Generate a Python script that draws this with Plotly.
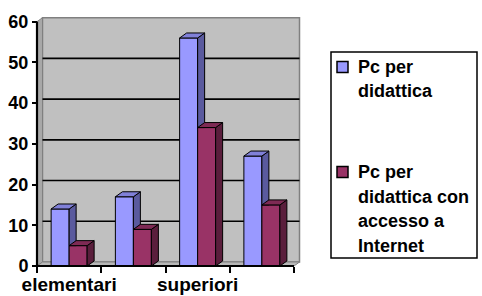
import plotly.graph_objects as go

# ---------------- data ----------------
categories = ["elementari", "", "superiori", ""]
series_names = ["Pc per didattica", "Pc per didattica con accesso a Internet"]
legend_lines = [["Pc per", "didattica"], ["Pc per", "didattica con", "accesso a", "Internet"]]
pc_didattica = [14, 17, 56, 27]
pc_internet = [5, 9, 34, 15]
y_ticks = [0, 10, 20, 30, 40, 50, 60]

# ---------------- layout constants ----------------
W, H = 482, 296
ML, MR, MT, MB = 33, 180, 17, 28
X0_PX, Y0_PX = 37, 266          # pixel where x=-0.5 / y=0
SX, SY = 64.25, 4.072           # px per unit
plot_w, plot_h = W - ML - MR, H - MT - MB
xmin = -0.5 - (X0_PX - ML) / SX
xmax = xmin + plot_w / SX
ymin = -((H - MB) - Y0_PX) / SY
ymax = ymin + plot_h / SY


def px(x):
    return (x - ML) / plot_w


def py(y):
    return ((H - MB) - y) / plot_h


BAR_W = 18 / SX
DX, DY = 7 / SX, 5 / SY          # bar depth
WX, WY = 5.5 / SX, 4 / SY        # wall depth

BLUE, BLUE_TOP, BLUE_SIDE = "#9999FF", "#8080D8", "#5A5A9E"
RED, RED_TOP, RED_SIDE = "#993366", "#7E2A54", "#5A1E3C"
FONT = dict(family="Liberation Sans, Arial, sans-serif", size=18, color="black")

xs = list(range(len(categories)))
fig = go.Figure()

fig.add_trace(go.Bar(x=xs, y=pc_didattica, width=BAR_W, offset=-BAR_W, name=series_names[0],
                     marker=dict(color=BLUE, line=dict(color="black", width=1)), showlegend=False))
fig.add_trace(go.Bar(x=xs, y=pc_internet, width=BAR_W, offset=0, name=series_names[1],
                     marker=dict(color=RED, line=dict(color="black", width=1)), showlegend=False))


def poly_trace(pxs, pys, color):
    return go.Scatter(x=pxs, y=pys, mode="lines", fill="toself", fillcolor=color,
                      line=dict(color="black", width=1), showlegend=False, hoverinfo="skip")


# blue tops and visible sides
tx, ty, sx_, sy_ = [], [], [], []
for c, hb, hr in zip(xs, pc_didattica, pc_internet):
    x0, x1 = c - BAR_W, c
    tx += [x0, x1, x1 + DX, x0 + DX, x0, None]
    ty += [hb, hb, hb + DY, hb + DY, hb, None]
    low = min(hr, hb)
    sx_ += [x1, x1, x1 + DX, x1 + DX, x1, None]
    sy_ += [low, hb, hb + DY, low, low, None]
fig.add_trace(poly_trace(sx_, sy_, BLUE_SIDE))
fig.add_trace(poly_trace(tx, ty, BLUE_TOP))

# red sides and tops
tx, ty, sx_, sy_ = [], [], [], []
for c, hr in zip(xs, pc_internet):
    x0, x1 = c, c + BAR_W
    tx += [x0, x1, x1 + DX, x0 + DX, x0, None]
    ty += [hr, hr, hr + DY, hr + DY, hr, None]
    sx_ += [x1, x1, x1 + DX, x1 + DX, x1, None]
    sy_ += [0, hr, hr + DY, DY, 0, None]
fig.add_trace(poly_trace(sx_, sy_, RED_SIDE))
fig.add_trace(poly_trace(tx, ty, RED_TOP))

# ---------------- walls, floor, gridlines ----------------
L, R, T = -0.5, len(categories) - 0.5, y_ticks[-1]
shapes = [
    dict(type="rect", x0=L + WX, x1=R + WX, y0=WY, y1=T + WY, fillcolor="#C0C0C0",
         line=dict(color="#808080", width=1.5), layer="below"),
    dict(type="path", path=f"M{L},0 L{L},{T} L{L+WX},{T+WY} L{L+WX},{WY} Z",
         fillcolor="#A8A8A8", line=dict(color="#808080", width=1), layer="below"),
    dict(type="path", path=f"M{L},0 L{R},0 L{R+WX},{WY} L{L+WX},{WY} Z",
         fillcolor="#B8B8B8", line=dict(color="#808080", width=1), layer="below"),
]
for v in y_ticks[1:-1]:
    shapes.append(dict(type="line", x0=L + WX, x1=R + WX, y0=v + WY, y1=v + WY,
                       line=dict(color="black", width=1.6), layer="below"))
shapes.append(dict(type="line", x0=L, x1=L, y0=0, y1=T, line=dict(color="black", width=2.2)))
shapes.append(dict(type="line", x0=L, x1=R, y0=0, y1=0, line=dict(color="black", width=2.2)))

# ---------------- legend (drawn) ----------------
annotations = []
shapes.append(dict(type="rect", xref="paper", yref="paper", x0=px(331), x1=px(477),
                   y0=py(52), y1=py(258), line=dict(color="black", width=1.5),
                   fillcolor="white", layer="above"))
item_top = [67, 172]
for color, lines, y_first in zip([BLUE, RED], legend_lines, item_top):
    shapes.append(dict(type="rect", xref="paper", yref="paper", x0=px(337), x1=px(348),
                       y0=py(y_first - 5.5), y1=py(y_first + 5.5), fillcolor=color,
                       line=dict(color="black", width=1.5), layer="above"))
    for k, t in enumerate(lines):
        annotations.append(dict(xref="paper", yref="paper", x=px(356), y=py(y_first + k * 24.5),
                                xanchor="left", yanchor="middle", showarrow=False,
                                text=f"<b>{t}</b>", font=FONT))

fig.update_layout(
    width=W, height=H, margin=dict(l=ML, r=MR, t=MT, b=MB, autoexpand=False),
    paper_bgcolor="white", plot_bgcolor="white", font=FONT,
    barmode="overlay", shapes=shapes, annotations=annotations, showlegend=False,
    xaxis=dict(range=[xmin, xmax], tickmode="array", tickvals=xs,
               ticktext=[f"<b>{c}</b>" if c else "" for c in categories],
               tickfont=dict(size=19), ticks="", showgrid=False, zeroline=False, showline=False,
               automargin=False, anchor="free", position=(0 - ymin) / (ymax - ymin),
               ticklabelstandoff=5,
               minor=dict(tickmode="array", tickvals=[i - 0.5 for i in range(len(categories) + 1)],
                          ticks="outside", ticklen=6, tickwidth=1.6, tickcolor="black", showgrid=False)),
    yaxis=dict(range=[ymin, ymax], tickmode="array", tickvals=y_ticks,
               ticktext=[f"<b>{v}</b>" for v in y_ticks], ticks="outside",
               ticklen=5, tickwidth=1.6, tickcolor="black", showgrid=False, zeroline=False,
               showline=False, automargin=False, anchor="free", position=(L - xmin) / (xmax - xmin)),
)

fig.write_html("out.html", config={"displayModeBar": False},
               post_script="document.body.style.margin='0px';")
